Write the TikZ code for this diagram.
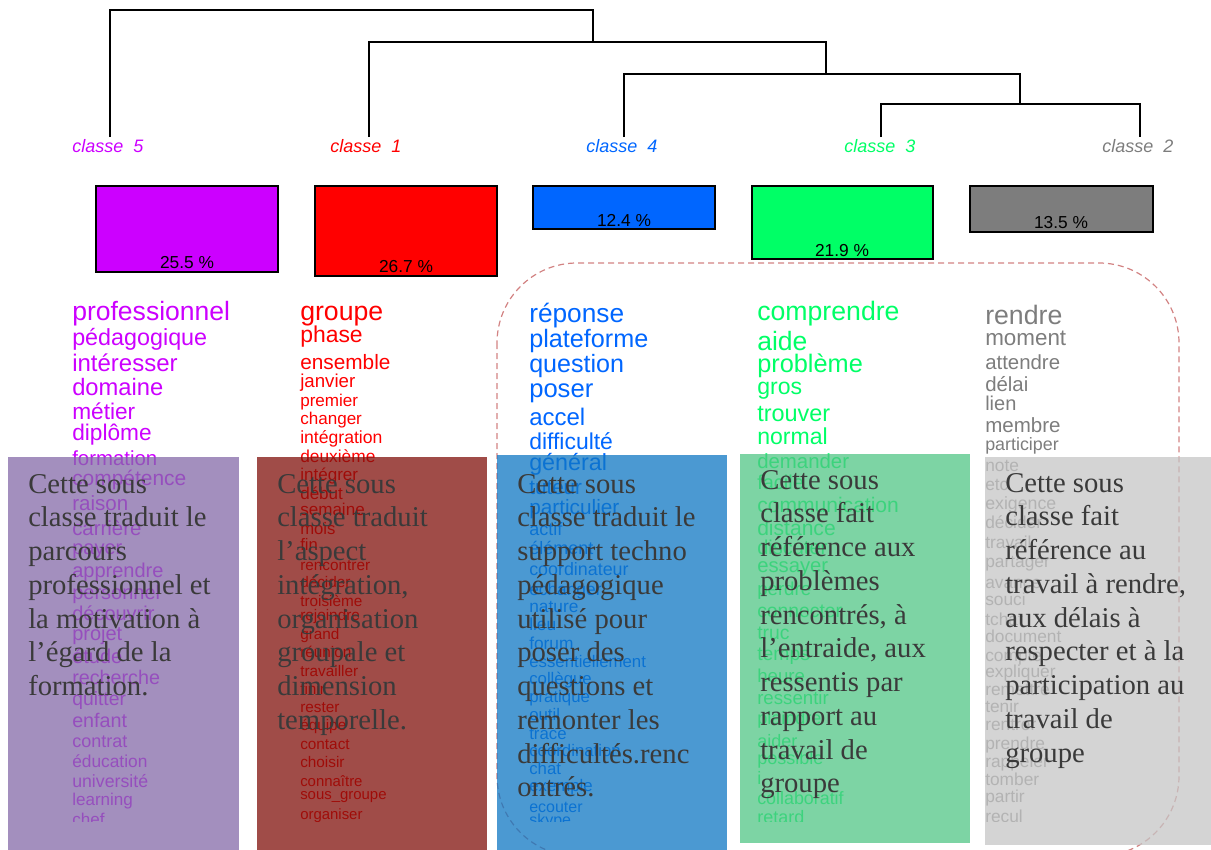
\documentclass[tikz,border=0pt]{standalone}
\usepackage{fontspec}
\setmainfont{Liberation Serif}
\newfontfamily\arial{Liberation Sans}
\definecolor{cfive}{RGB}{204,0,255}
\definecolor{cone}{RGB}{255,0,0}
\definecolor{cfour}{RGB}{0,102,255}
\definecolor{cthree}{RGB}{0,255,102}
\definecolor{ctwo}{RGB}{125,125,125}
\definecolor{ofive}{RGB}{132,105,168}
\definecolor{oone}{RGB}{128,16,11}
\definecolor{ofour}{RGB}{15,119,195}
\definecolor{othree}{RGB}{81,197,133}
\definecolor{otwo}{RGB}{197,197,197}
\definecolor{dashc}{RGB}{210,130,130}
\definecolor{txtc}{RGB}{58,58,58}
\newcommand\wordcol[4]{%
  \foreach \yy/\ss/\ww [count=\i] in {#4} {%
    \node[word, text=#2, font=\arial\fontsize{\ss}{\ss}\selectfont] (#3-\i) at (#1,\yy) {\ww};}}
\begin{document}
\begin{tikzpicture}[x=0.75pt,y=-0.75pt,
  dendro/.style={line width=1pt, black},
  lab/.style={font=\arial\itshape\fontsize{13.5}{13.5}\selectfont, inner sep=0},
  bar/.style={draw=black, line width=1pt},
  pct/.style={font=\arial\fontsize{13}{13}\selectfont, inner sep=0, text=black},
  word/.style={anchor=mid west, inner sep=0, yshift=-3pt},
  ov/.style={fill opacity=0.75},
  otext/.style={anchor=north west, inner sep=0, align=left, text=txtc,
    font=\fontsize{21.5}{25.3}\selectfont}]
\useasboundingbox (0,0) rectangle (1211,850);
% dendrogram
\node[lab, text=cfive] (l5) at (108,146) {classe\ \ 5};
\node[lab, text=cone] (l1) at (366,146) {classe\ \ 1};
\node[lab, text=cfour] (l4) at (622,146) {classe\ \ 4};
\node[lab, text=cthree] (l3) at (880,146) {classe\ \ 3};
\node[lab, text=ctwo] (l2) at (1138,146) {classe\ \ 2};
\coordinate (b5) at (110,137);
\coordinate (b1) at (369,137);
\coordinate (b4) at (624,137);
\coordinate (b3) at (881,137);
\coordinate (b2) at (1140,137);
\coordinate (t1) at (593,10);  \coordinate (m1) at (593,42);
\coordinate (t2) at (826,42);  \coordinate (m2) at (826,74);
\coordinate (t3) at (1020,74); \coordinate (m3) at (1020,104);
\coordinate (t4) at (1140,104);
\draw[dendro] (b5) |- (t1) -- (m1);
\draw[dendro] (b1) |- (t2) -- (m2);
\draw[dendro] (b4) |- (t3) -- (m3);
\draw[dendro] (b3) |- (t4) -- (b2);
% bars
\filldraw[bar, fill=cfive] (96,186) rectangle (278,272);
\filldraw[bar, fill=cone] (315,186) rectangle (497,276);
\filldraw[bar, fill=cfour] (533,186) rectangle (715,229);
\filldraw[bar, fill=cthree] (752,186) rectangle (933,259);
\filldraw[bar, fill=ctwo!100] (970,186) rectangle (1153,232);
\node[pct] (p5) at (187,263) {25.5 \%};
\node[pct] (p1) at (406,267) {26.7 \%};
\node[pct] (p4) at (624,220) {12.4 \%};
\node[pct] (p3) at (842,251) {21.9 \%};
\node[pct] (p2) at (1061,223) {13.5 \%};
% dashed group
\draw[dashc, line width=0.9pt, dash pattern=on 4.5pt off 3pt, rounded corners=60pt]
  (497,263) rectangle (1179,856);
% word lists
\begin{scope}
\clip (0,0) rectangle (1211,821);
\wordcol{72}{cfive}{w5}{313/19.9/professionnel, 338/17.5/pédagogique, 364/18/intéresser, 388/17.8/domaine, 412/17/métier, 433/17/diplôme, 458/15.3/formation, 478/15.7/compétence, 503/15.4/raison, 528/15.3/carrière, 547/15/payer, 570/15/apprendre, 592/15/personnel, 613/15/découvrir, 633/15/projet, 656/15/étude, 677/14.8/recherche, 698/14.5/quitter, 720/14.8/enfant, 740/13.5/contrat, 760/13/éducation, 780/13.3/université, 798/12.8/learning, 818/12.8/chef}
\wordcol{300}{cone}{w1}{313/20/groupe, 335/17.2/phase, 362/15.6/ensemble, 380/14/janvier, 399/12.8/premier, 417/12.8/changer, 436/13.2/intégration, 455/13/deuxième, 473/12.8/intégrer, 492/12.8/début, 508/12.8/semaine, 527/12.5/mois, 543/12.5/fin, 563/11.5/rencontrer, 580/11.5/décider, 599/11.5/troisième, 613/11.5/rejoindre, 632/11.5/grand, 650/11.5/réunion, 669/11.5/travailler, 687/11.5/finir, 705/11.5/rester, 723/11.5/équipe, 742/11.5/contact, 760/11.5/choisir, 779/11.2/connaître, 792/11.2/sous\_groupe, 812/11.2/organiser}
\wordcol{529}{cfour}{w4}{315/19.7/réponse, 340/18.9/plateforme, 365/18.8/question, 390/19.2/poser, 418/18/accel, 442/17.2/difficulté, 463/17.5/général, 487/15.5/tuteur, 507/15.6/particulier, 528/13.5/actif, 547/13.5/élément, 568/13.4/coordinateur, 588/13/échanger, 605/13/nature, 623/13/lieu, 642/13/forum, 660/12.6/essentiellement, 677/12.6/collègue, 695/12.6/pratique, 713/12.6/outil, 732/12.6/trace, 749/12.6/coordination, 767/12.6/chat, 784/12.6/exemple, 805/12/ecouter, 818/12/skype}
\wordcol{757}{cthree}{w3}{313/20/comprendre, 343/19.9/aide, 365/19/problème, 387/17.3/gros, 414/17.6/trouver, 437/17.3/normal, 461/15.3/demander, 482/15/facile, 505/15.8/communication, 528/15.8/distance, 547/15/discuter, 565/15.2/essayer, 588/14/perdre, 610/14.5/connecter, 632/14.5/truc, 653/14.5/temps, 675/14/heure, 697/14/ressentir, 717/13.5/plaindre, 740/13.5/aider, 757/13.5/possible, 777/13.5/i, 797/13.4/collaboratif, 816/13.5/retard}
\wordcol{985}{ctwo}{w2}{317/20/rendre, 338/16.8/moment, 362/15.3/attendre, 384/15.3/délai, 403/15/lien, 425/15.4/membre, 443/13.4/participer, 464/13/note, 483/13/etc, 502/13.3/exigence, 521/13/décider, 541/13/travail, 560/13/partager, 581/13/avance, 598/13/souci, 618/13/tchat, 635/13/document, 654/13/compte, 670/13/expliquer, 688/13/remettre, 705/13/tenir, 723/13/rentrer, 742/13/prendre, 760/13/rappeler, 778/13/tomber, 795/13/partir, 815/13/recul}
\end{scope}
% overlays
\fill[ov, ofive] (8,457) rectangle (239,850);
\fill[ov, oone] (257,457) rectangle (487,850);
\fill[ov, ofour] (497,455) rectangle (727,850);
\fill[ov, othree] (740,454) rectangle (970,843);
\fill[ov, otwo] (985,457) rectangle (1211,845);
\node[otext] (d5) at (28,474) {Cette sous\\classe traduit le\\parcours\\professionnel et\\la motivation à\\l’égard de la\\formation.};
\node[otext] (d1) at (277,474) {Cette sous\\classe traduit\\l’aspect\\intégration,\\organisation\\groupale et\\dimension\\temporelle.};
\node[otext] (d4) at (517,474) {Cette sous\\classe traduit le\\support techno\\pédagogique\\utilisé pour\\poser des\\questions et\\remonter les\\difficultés.renc\\ontrés.};
\node[otext] (d3) at (760,470) {Cette sous\\classe fait\\référence aux\\problèmes\\rencontrés, à\\l’entraide, aux\\ressentis par\\rapport au\\travail de\\groupe};
\node[otext] (d2) at (1005,473) {Cette sous\\classe fait\\référence au\\travail à rendre,\\aux délais à\\respecter et à la\\participation au\\travail de\\groupe};
\end{tikzpicture}
\end{document}
